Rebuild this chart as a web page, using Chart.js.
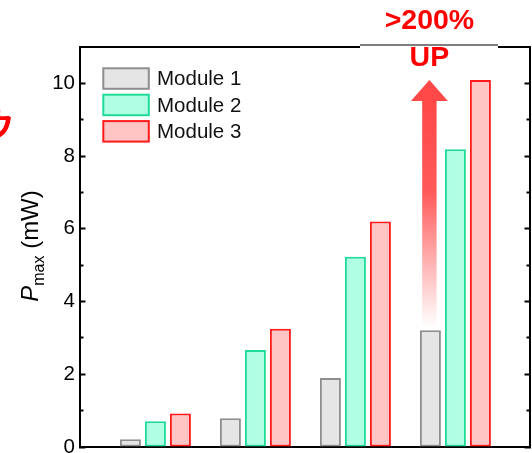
<!DOCTYPE html>
<html>
<head>
<meta charset="utf-8">
<script src="https://cdn.jsdelivr.net/npm/chart.js@4.4.1/dist/chart.umd.min.js"></script>
<style>
  html, body { margin: 0; padding: 0; background: #ffffff; }
  #wrap { position: relative; width: 532px; height: 453px; }
</style>
</head>
<body>
<div id="wrap"><canvas id="chart" width="532" height="453"></canvas></div>
<script>
// Group positions along the x axis (one cluster of three bars each)
const groupPositions = [1, 2, 3, 4];

// Series names and maximum output power (mW)
const seriesNames = ['Module 1', 'Module 2', 'Module 3'];
const module1 = [0.21, 0.79, 1.90, 3.21];
const module2 = [0.71, 2.67, 5.23, 8.19];
const module3 = [0.92, 3.25, 6.20, 10.09];

// Y axis ticks
const yMajorTicks = [0, 2, 4, 6, 8, 10];
const yMinorTicks = [1, 3, 5, 7, 9];
const yMax = 11;

// Annotation text
const gainLines = ['>200%', 'UP'];
const edgeGlyph = 'ウ';

const ink = '#000000';
const fam = "'Liberation Sans', Arial, sans-serif";

const fills = ['#e5e5e5', '#b0ffe4', '#ffc4c4'];
const strokes = ['#8e8e8e', '#1edc98', '#ff1a1a'];
const seriesValues = [module1, module2, module3];

function fixSize(prop, size) {
  return scale => {
    scale[prop] = size;
    scale.paddingTop = 0; scale.paddingBottom = 0;
    scale.paddingLeft = 0; scale.paddingRight = 0;
  };
}
function setTicks(values) {
  return scale => { scale.ticks = values.map(v => ({ value: v })); };
}

const xRange = { min: 0.246, max: 4.746 };

function yAxis(position, weight, ticksArr, len, width, labels) {
  return {
    type: 'linear', position, weight, min: 0, max: yMax,
    afterBuildTicks: setTicks(ticksArr),
    afterFit: fixSize('width', width),
    ticks: {
      display: labels, color: ink, padding: 10.5, autoSkip: false,
      font: { family: fam, size: 20.5 },
      callback: v => String(v)
    },
    grid: { display: true, drawOnChartArea: false, drawTicks: true, tickLength: len, tickWidth: 2, tickColor: ink },
    border: { display: weight === 1, width: 2, color: ink }
  };
}

const decorations = {
  id: 'decorations',
  afterDraw(chart) {
    const ctx = chart.ctx;
    const area = chart.chartArea;
    const yS = chart.scales.y;

    // Axis title: P_max (mW), rotated
    ctx.save();
    const cy = (area.top + area.bottom) / 2 - 1;
    const parts = [
      { text: 'P', font: `italic 24px ${fam}`, shift: 0 },
      { text: 'max', font: `16px ${fam}`, shift: 5.5 },
      { text: ' (mW)', font: `24px ${fam}`, shift: 0 }
    ];
    let total = 0;
    parts.forEach(p => { ctx.font = p.font; p.w = ctx.measureText(p.text).width; total += p.w; });
    ctx.translate(38, cy);
    ctx.rotate(-Math.PI / 2);
    ctx.fillStyle = ink;
    ctx.textBaseline = 'alphabetic';
    ctx.textAlign = 'left';
    let px = -total / 2;
    parts.forEach(p => { ctx.font = p.font; ctx.fillText(p.text, px, p.shift); px += p.w; });
    ctx.restore();

    // Legend inside the plot, top-left
    ctx.save();
    chart.data.datasets.forEach((ds, i) => {
      const top = 67.3 + i * 26.4;
      ctx.fillStyle = ds.backgroundColor;
      ctx.fillRect(103.3, top + 1, 45.5, 20.5);
      ctx.lineWidth = 2;
      ctx.strokeStyle = ds.borderColor;
      ctx.strokeRect(103.3, top + 1, 45.5, 20.5);
      ctx.fillStyle = '#111';
      ctx.font = `20.5px ${fam}`;
      ctx.textBaseline = 'middle';
      ctx.textAlign = 'left';
      ctx.fillText(ds.label, 157, top + 12.5);
    });
    ctx.restore();

    // Gain arrow rising from the Module 1 bar of the last group
    const bar = chart.getDatasetMeta(0).data[3];
    const cx = bar.x - 1;
    const tipY = yS.getPixelForValue(Math.max(...module3));
    const headBase = tipY + 21;
    const shaftBottom = bar.y - 3;
    ctx.save();
    const grad = ctx.createLinearGradient(0, headBase, 0, shaftBottom);
    grad.addColorStop(0, 'rgba(255,72,72,1)');
    grad.addColorStop(0.4, 'rgba(255,80,80,0.95)');
    grad.addColorStop(1, 'rgba(255,90,90,0)');
    ctx.fillStyle = grad;
    ctx.fillRect(cx - 7.2, headBase - 0.5, 14.4, shaftBottom - headBase + 0.5);
    ctx.fillStyle = 'rgba(255,72,72,1)';
    ctx.beginPath();
    ctx.moveTo(cx, tipY);
    ctx.lineTo(cx + 18.5, headBase);
    ctx.lineTo(cx - 18.5, headBase);
    ctx.closePath();
    ctx.fill();
    ctx.restore();

    // Text box over the top frame
    ctx.save();
    ctx.fillStyle = '#ffffff';
    ctx.fillRect(360, area.top - 1.5, 138, 3);
    ctx.strokeStyle = '#555';
    ctx.lineWidth = 1.5;
    ctx.beginPath();
    ctx.moveTo(360, area.top - 2);
    ctx.lineTo(498, area.top - 2);
    ctx.stroke();
    ctx.fillStyle = '#ff0000';
    ctx.font = `bold 28.5px ${fam}`;
    ctx.textAlign = 'center';
    ctx.textBaseline = 'alphabetic';
    ctx.fillText(gainLines[0], cx, 29);
    ctx.fillText(gainLines[1], cx, 66);
    ctx.restore();

    // Glyph at the left edge
    ctx.save();
    ctx.fillStyle = '#ff0000';
    ctx.font = `bold 32px 'Noto Sans CJK JP', sans-serif`;
    ctx.textAlign = 'center';
    ctx.textBaseline = 'middle';
    ctx.fillText(edgeGlyph, -2, 125);
    ctx.restore();
  }
};

new Chart(document.getElementById('chart'), {
  type: 'bar',
  data: {
    datasets: seriesNames.map((name, k) => ({
      label: name,
      data: groupPositions.map((g, i) => ({ x: g, y: seriesValues[k][i] })),
      backgroundColor: fills[k],
      borderColor: strokes[k],
      borderWidth: 2,
      borderSkipped: false,
      categoryPercentage: 0.75,
      barPercentage: 0.84,
      xAxisID: 'x',
      yAxisID: 'y'
    }))
  },
  options: {
    responsive: false,
    animation: false,
    devicePixelRatio: 1,
    layout: { padding: 0 },
    plugins: { legend: { display: false }, tooltip: { enabled: false } },
    scales: {
      x: {
        type: 'linear', position: 'bottom', offset: false, bounds: 'data',
        min: xRange.min, max: xRange.max,
        afterBuildTicks: setTicks(groupPositions),
        afterFit: fixSize('height', 6),
        ticks: { display: false },
        grid: { display: false },
        border: { display: true, width: 2, color: ink }
      },
      xTop: {
        type: 'linear', position: 'top', offset: false, bounds: 'data',
        min: xRange.min, max: xRange.max,
        afterBuildTicks: setTicks(groupPositions),
        afterFit: fixSize('height', 47),
        ticks: { display: false },
        grid: { display: false },
        border: { display: true, width: 2, color: ink }
      },
      y: yAxis('left', 1, yMajorTicks, -5.5, 80, true),
      yMinor: yAxis('left', 0, yMinorTicks, -3.5, 0, false),
      yRight: yAxis('right', 1, yMajorTicks, -5.5, 2, false),
      yRightMinor: yAxis('right', 0, yMinorTicks, -3.5, 0, false)
    }
  },
  plugins: [decorations]
});
</script>
</body>
</html>
